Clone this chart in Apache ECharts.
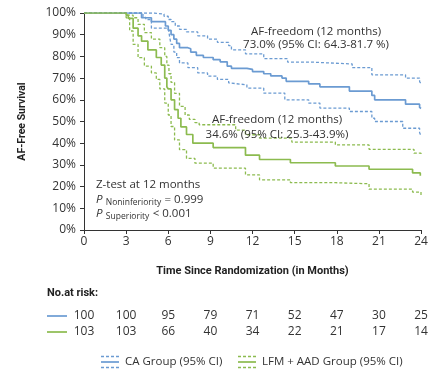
<!DOCTYPE html>
<html><head><meta charset="utf-8">
<script src="https://cdn.jsdelivr.net/npm/echarts@6/dist/echarts.min.js"></script>
<style>html,body{margin:0;padding:0;background:#fff}#c{width:442px;height:379px}</style>
</head><body><div id="c"></div>
<script>
const xTicks = [0, 3, 6, 9, 12, 15, 18, 21, 24];
const riskCA = [100, 100, 95, 79, 71, 52, 47, 30, 25];
const riskLFM = [103, 103, 66, 40, 34, 22, 21, 17, 14];

const caSolid = [[0,100],[4.1,97.8],[4.8,96],[5.8,94],[6.0,92],[6.2,90],[6.4,88],[6.6,86],[6.8,84],[7.4,83.5],[7.6,82],[8.0,80.5],[8.5,79.5],[9.2,78.5],[9.7,77.5],[10.2,75.5],[10.5,74.5],[11.6,74],[12.0,73],[12.8,72],[13.3,71],[14.1,70],[14.4,68.5],[16.0,67.3],[16.8,66],[18.9,64],[20.5,62],[20.7,60],[22.9,58],[23.9,56.5],[24,56]];
const caUpper = [[0,100],[5.0,99.5],[5.7,98.5],[6.0,97],[6.2,96],[6.5,94],[6.8,92.5],[7.3,91.3],[8.1,89.5],[8.8,88],[9.5,86.5],[10.3,85],[10.5,83],[11.5,81.2],[12.8,79],[14.5,77.4],[16.1,76.5],[19.1,74.8],[20.5,71.5],[22.9,70],[23.9,68.4],[24,67.5]];
const caLower = [[0,100],[4.2,98],[4.4,97],[4.8,93],[6.0,92.4],[6.1,89],[6.2,85.5],[6.4,82],[6.6,79.4],[6.8,77],[7.4,74.8],[8.1,72.4],[8.8,70.9],[9.5,69.4],[10.3,67.8],[10.4,66.9],[11.6,65.4],[12.8,63.1],[14.3,60],[16.0,58.5],[16.8,56.2],[18.9,54.6],[20.5,51.5],[20.7,50],[22.7,46.9],[23.9,44.8],[24,43.5]];
const lfmSolid = [[0,100],[3.0,99],[3.15,97.5],[3.5,93],[3.85,89.5],[4.1,87],[4.55,83],[5.15,79.5],[5.5,76],[5.75,70],[5.9,66],[6.0,65],[6.2,60],[6.45,55.5],[6.7,51.5],[6.9,47.5],[7.3,44],[7.75,40],[9.2,38],[11.5,34.5],[12.5,32.5],[14.7,31],[17.9,29.5],[20.3,28],[23.4,26.3],[23.95,25]];
const lfmUpper = [[0,100],[3.1,99],[3.5,97.8],[3.85,94.8],[4.3,91],[4.8,88],[5.4,84],[5.75,80],[5.9,76],[6.05,72],[6.2,68],[6.45,63],[6.8,57],[7.2,53],[7.5,51],[7.9,49.5],[8.2,48.5],[10.8,46],[11.5,43.9],[12.5,42.3],[14.8,40.5],[17.9,39.2],[20.3,37.2],[23.5,35.4],[24,34.3]];
const lfmLower = [[0,100],[3.0,97.8],[3.25,91.7],[3.5,85.5],[3.85,79.4],[4.3,75.5],[4.8,72.4],[5.15,69.4],[5.4,65],[5.75,58.5],[6.0,53],[6.2,47.7],[6.45,41.5],[6.8,37],[7.3,33],[7.9,30.8],[9.2,28.5],[11.5,25.4],[12.5,23.1],[14.7,21.8],[17.9,21.3],[20.3,18.8],[23.4,17.5],[24,16]];

const BLUE = '#6b9bd2';
const GREEN = '#8cbb4f';
const TXT = '#333';
const FONT = "'Open Sans', 'Noto Sans', sans-serif";
const BOLDF = "Roboto, 'Noto Sans', sans-serif";

const chart = echarts.init(document.getElementById('c'), null, {renderer: 'canvas'});

function line(data, color, dashed) {
  return {
    type: 'line', data: data, step: 'end', showSymbol: false, symbol: 'none',
    silent: true, animation: false, z: dashed ? 2 : 3,
    lineStyle: {color: color, width: dashed ? 1.3 : 1.7, type: dashed ? [3, 2] : 'solid'}
  };
}

chart.setOption({
  animation: false,
  grid: {left: 84, right: 21, top: 13, bottom: 149, containLabel: false},
  xAxis: {
    type: 'value', min: 0, max: 24, interval: 3,
    name: 'Time Since Randomization (in Months)', nameLocation: 'middle', nameGap: 36,
    nameTextStyle: {fontFamily: BOLDF, fontWeight: 'bold', fontSize: 11, color: '#222'},
    axisLine: {show: true, lineStyle: {color: '#333', width: 1}},
    axisTick: {show: true, length: 4, lineStyle: {color: '#333'}},
    axisLabel: {fontFamily: FONT, fontSize: 12, color: TXT, margin: 6},
    splitLine: {show: false}
  },
  yAxis: {
    type: 'value', min: 0, max: 100, interval: 10,
    name: 'AF-Free Survival', nameLocation: 'middle', nameGap: 56, nameRotate: 90,
    nameTextStyle: {fontFamily: BOLDF, fontWeight: 'bold', fontSize: 10.5, color: '#222'},
    axisLine: {show: true, lineStyle: {color: '#333', width: 1}},
    axisTick: {show: true, length: 4, lineStyle: {color: '#333'}},
    axisLabel: {fontFamily: FONT, fontSize: 12, color: TXT, margin: 8, formatter: '{value}%'},
    splitLine: {show: false}
  },
  series: [
    line(caUpper, BLUE, true), line(caLower, BLUE, true),
    line(lfmUpper, GREEN, true), line(lfmLower, GREEN, true),
    line(caSolid, BLUE, false), line(lfmSolid, GREEN, false)
  ]
});

const g = [];
function txt(x, y, s, opt) {
  g.push({type: 'text', x: x, y: y, silent: true, z: 10,
    style: Object.assign({text: s, fill: TXT, font: '11.5px ' + FONT, textAlign: 'left', textVerticalAlign: 'middle'}, opt || {})});
}
function seg(x1, y1, x2, y2, color, dash, w) {
  g.push({type: 'line', silent: true, z: 10, shape: {x1: x1, y1: y1, x2: x2, y2: y2},
    style: {stroke: color, lineWidth: w || 1.7, lineDash: dash || null}});
}

// annotations
txt(316, 32, 'AF-freedom (12 months)', {textAlign: 'center'});
txt(316, 45, '73.0% (95% CI: 64.3-81.7 %)', {textAlign: 'center'});
txt(277, 120, 'AF-freedom (12 months)', {textAlign: 'center'});
txt(277, 135, '34.6% (95% CI: 25.3-43.9%)', {textAlign: 'center'});

// z-test
txt(96, 185, 'Z-test at 12 months');
const richZ = {p: {fontFamily: FONT, fontStyle: 'italic', fontSize: 11.5, fill: TXT, verticalAlign: 'middle'},
               s: {fontFamily: FONT, fontSize: 8.5, fill: TXT, verticalAlign: 'bottom', padding: [6, 0, 0, 0]},
               n: {fontFamily: FONT, fontSize: 11.5, fill: TXT, verticalAlign: 'middle'}};
g.push({type: 'text', x: 96, y: 200, silent: true, z: 10, style: {
  text: '{p|P} {s|Noninferiority} {n|= 0.999}', textVerticalAlign: 'middle', rich: richZ}});
g.push({type: 'text', x: 96, y: 214, silent: true, z: 10, style: {
  text: '{p|P} {s|Superiority} {n|< 0.001}', textVerticalAlign: 'middle', rich: richZ}});

// risk table
txt(47, 293, 'No.at risk:', {font: 'bold 11px ' + BOLDF, fill: '#222'});
const rowY = [316, 332];
seg(47, rowY[0], 67, rowY[0], BLUE);
seg(47, rowY[1], 67, rowY[1], GREEN);
xTicks.forEach(function (t, i) {
  const px = chart.convertToPixel({xAxisIndex: 0}, t);
  txt(px, rowY[0], String(riskCA[i]), {textAlign: 'center', font: '12px ' + FONT});
  txt(px, rowY[1], String(riskLFM[i]), {textAlign: 'center', font: '12px ' + FONT});
});

// legend
function legIcon(x, y, color) {
  seg(x, y - 5.5, x + 18, y - 5.5, color, [3, 2], 1.3);
  seg(x, y, x + 18, y, color, null, 1.7);
  seg(x, y + 5.5, x + 18, y + 5.5, color, [3, 2], 1.3);
}
legIcon(101, 362, BLUE);
txt(125, 362, 'CA Group (95% CI)');
legIcon(238, 362, GREEN);
txt(262, 362, 'LFM + AAD Group (95% CI)');

chart.setOption({graphic: {elements: g}});
</script>
</body></html>
